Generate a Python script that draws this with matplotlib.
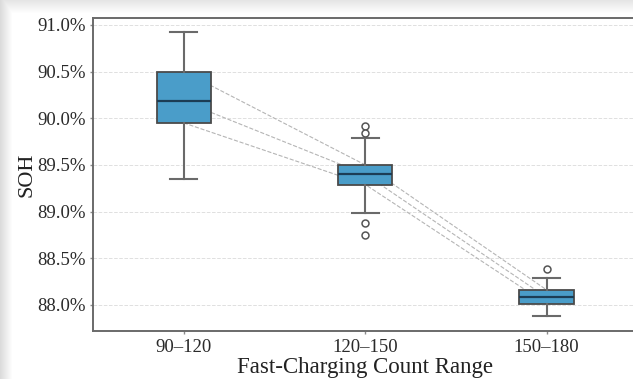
import numpy as np
import matplotlib
matplotlib.use('Agg')
import matplotlib.pyplot as plt
from matplotlib.ticker import FuncFormatter

# values (SOH in %)
ranges = ['90–120', '120–150', '150–180']
whislo = [89.35, 88.99, 87.885]
q1 = [89.95, 89.29, 88.01]
med = [90.18, 89.40, 88.08]
q3 = [90.50, 89.50, 88.16]
whishi = [90.92, 89.79, 88.29]
fliers = [[], [89.92, 89.84, 88.88, 88.75], [88.39]]

plt.rcParams['font.family'] = ['Liberation Serif', 'DejaVu Serif']

fig = plt.figure(figsize=(6.33, 3.79), dpi=100)

# screenshot-like shadow on the left and top edges
h, w = 379, 633
img = np.ones((h, w, 3))
for i in range(13):
    v = 0.86 + 0.14 * (i / 12.0)
    img[:, i, :] = np.minimum(img[:, i, :], v)
for j in range(14):
    v = 0.90 + 0.10 * (j / 13.0)
    img[j, :, :] = np.minimum(img[j, :, :], v)
fig.figimage(img, 0, 0, zorder=-10)

ax = fig.add_axes([0.147, 0.1266, 0.86, 0.826])
ax.set_zorder(1)
ax.set_facecolor('white')

stats = []
for i in range(len(ranges)):
    stats.append(dict(label=ranges[i], whislo=whislo[i], q1=q1[i], med=med[i],
                      q3=q3[i], whishi=whishi[i], fliers=fliers[i]))

pos = np.arange(len(ranges))
ax.bxp(stats, positions=pos, widths=0.3, patch_artist=True,
       boxprops=dict(facecolor='#4a9dc9', edgecolor='#4a4a4a', linewidth=1.3),
       medianprops=dict(color='#1c3d55', linewidth=1.6),
       whiskerprops=dict(color='#6a6a6a', linewidth=1.5),
       capprops=dict(color='#6a6a6a', linewidth=1.5),
       flierprops=dict(marker='o', markerfacecolor='white', markeredgecolor='#555555',
                       markersize=5, markeredgewidth=1.1),
       zorder=3)

# dashed trend lines through quartiles and medians
for series in (q3, med, q1):
    ax.plot(pos, series, ls='--', color='#b5b5b5', lw=0.8, zorder=2)

ax.set_xlim(-0.5, 2.5)
ax.set_ylim(87.72, 91.075)
ax.set_yticks([88.0, 88.5, 89.0, 89.5, 90.0, 90.5, 91.0])
ax.yaxis.set_major_formatter(FuncFormatter(lambda v, p: f'{v:.1f}%'))
ax.set_xticks(pos)
ax.set_xticklabels(ranges)

ax.grid(axis='y', ls='--', color='#e0e0e0', lw=0.7, zorder=0)
ax.set_axisbelow(True)

for s in ax.spines.values():
    s.set_color('#6a6a6a')
    s.set_linewidth(1.4)

ax.tick_params(axis='both', labelsize=13.5, colors='#8a8a8a', labelcolor='#2a2a2a',
               length=2.5, width=1, pad=3)
ax.set_ylabel('SOH', fontsize=16, color='#222222', labelpad=0)
ax.set_xlabel('Fast-Charging Count Range', fontsize=16.5, color='#222222', labelpad=1)

fig.savefig('out.png', dpi=100)
